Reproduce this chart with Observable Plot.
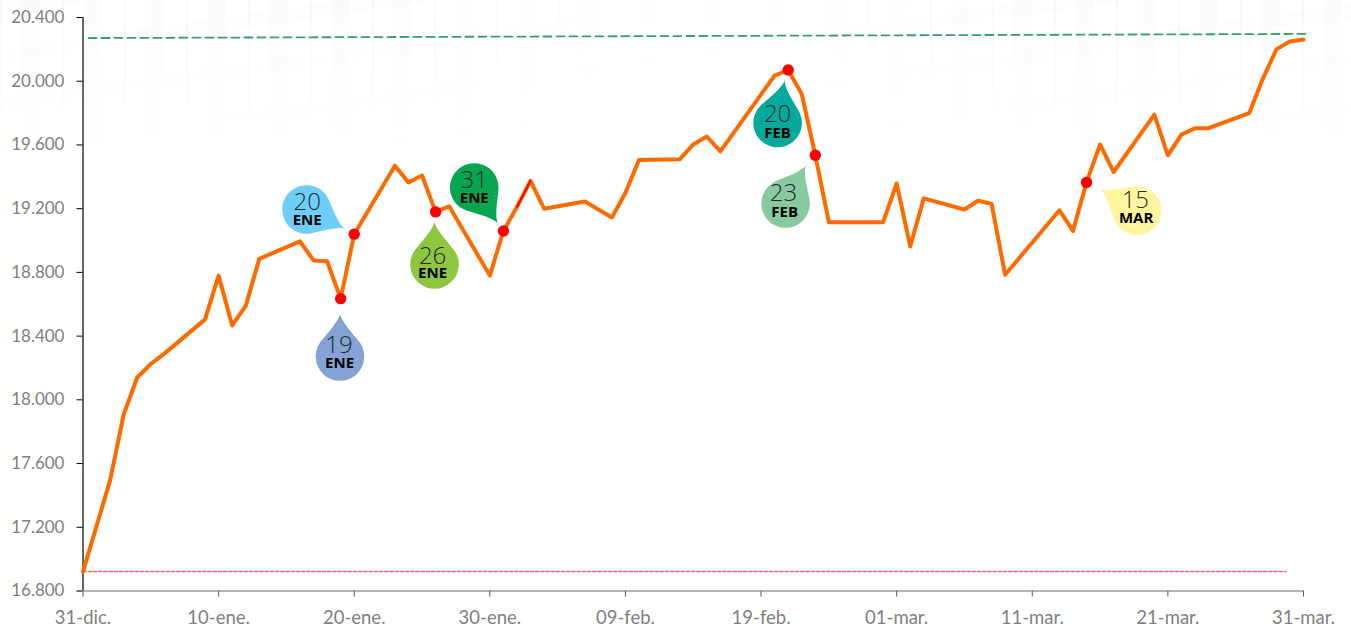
<!DOCTYPE html>
<html lang="es">
<head>
<meta charset="utf-8">
<script src="https://cdn.jsdelivr.net/npm/d3@7"></script>
<script src="https://cdn.jsdelivr.net/npm/@observablehq/plot@0.6"></script>
<style>
html,body{margin:0;padding:0;background:#fff;overflow:hidden}
#wrap{position:relative;width:1351px;height:627px}
#bg{position:absolute;left:0;top:0;width:1351px;height:170px;
 background-image:
  repeating-linear-gradient(90deg,rgba(0,0,0,.03) 0 2px,transparent 2px 21px,rgba(0,0,0,.012) 21px 40px,transparent 40px 62px),
  repeating-linear-gradient(172deg,rgba(0,0,0,.009) 0 14px,transparent 14px 48px);
 -webkit-mask-image:linear-gradient(180deg,#000 0,rgba(0,0,0,.45) 45%,transparent 100%),linear-gradient(90deg,#000 0,#000 26%,rgba(0,0,0,.2) 45%,rgba(0,0,0,.2) 60%,#000 78%);
 -webkit-mask-composite:source-in;mask-composite:intersect}
#chart{position:absolute;left:0;top:0}
</style>
</head>
<body>
<div id="wrap"><div id="bg"></div><div id="chart"></div></div>
<script>
const days = [0,2,3,4,5,6,9,10,11,12,13,16,17,18,19,20,23,24,25,26,27,30,31,32,33,34,37,39,40,41,44,45,46,47,51,52,53,54,55,59,60,61,62,65,66,67,68,72,73,74,75,76,79,80,81,82,83,86,87,88,89,90];
const values = [16922,17494,17908,18140,18225,18290,18505,18780,18467,18590,18885,18995,18875,18870,18635,19040,19470,19365,19408,19180,19215,18780,19060,19210,19375,19200,19245,19145,19300,19505,19510,19603,19653,19560,20036,20070,19920,19535,19115,19115,19358,18963,19265,19195,19250,19230,18785,19190,19060,19365,19603,19430,19790,19535,19665,19705,19705,19800,20015,20200,20250,20262];
const highlightDays = [19,20,26,31,52,54,74];
const redSegmentDays = [32,33];

const greenDays = [0.4,90.5];
const greenValues = [20271,20297];
const redDays = [0,88.7];
const redValues = [16922,16922];

const dropNumbers = ["20","19","26","31","20","23","15"];
const dropMonths = ["ENE","ENE","ENE","ENE","FEB","FEB","MAR"];
const dropDays = [16.48,18.95,25.92,28.85,51.22,51.81,77.73];
const dropValues = [19195,18272,18850,19333,19738,19232,19188];
const dropAngles = [116.6,0,0,146.6,9.4,27.8,-60];
const dropColors = ["#6FCEF7","#84A2D3","#8FC640","#06A651","#03AA9C","#88CA9F","#FFF59E"];
const numberDays = [16.53,18.88,25.78,28.85,51.22,51.66,77.6];
const numberValues = [19240,18342,18902,19380,19794,19295,19252];
const monthDays = [16.53,18.92,25.78,28.85,51.22,51.74,77.66];
const monthValues = [19125,18228,18795,19268,19676,19180,19138];

const xTicks = [0,10,20,30,40,50,60,70,80,90];
const xLabels = ["31-dic.","10-ene.","20-ene.","30-ene.","09-feb.","19-feb.","01-mar.","11-mar.","21-mar.","31-mar."];
const yTicks = [16800,17200,17600,18000,18400,18800,19200,19600,20000,20400];
const yLabels = ["16.800","17.200","17.600","18.000","18.400","18.800","19.200","19.600","20.000","20.400"];

const series = days.map((d,i)=>({d,v:values[i]}));
const toTable = (xs,ys)=>xs.map((d,i)=>({d,v:ys[i]}));
const drops = dropDays.map((d,i)=>({d,v:dropValues[i],a:dropAngles[i],c:dropColors[i]}));
const numbers = dropNumbers.map((t,i)=>({t,d:numberDays[i],v:numberValues[i]}));
const months = dropMonths.map((t,i)=>({t,d:monthDays[i],v:monthValues[i]}));

const dropSymbol = {
  draw(ctx,size){
    const R = Math.sqrt(size/Math.PI);
    const a = 55*Math.PI/180;
    const px = R*Math.sin(a), py = -R*Math.cos(a);
    ctx.moveTo(0,-1.77*R);
    ctx.bezierCurveTo(0.05*R,-1.42*R,px-0.3*R*Math.cos(a),py-0.3*R*Math.sin(a),px,py);
    ctx.arc(0,0,R,-Math.PI/2+a,-Math.PI/2-a+2*Math.PI);
    ctx.bezierCurveTo(-px+0.3*R*Math.cos(a),py-0.3*R*Math.sin(a),-0.05*R,-1.42*R,0,-1.77*R);
    ctx.closePath();
  }
};

const fam = "Lato, Carlito, Calibri, sans-serif";
const chart = Plot.plot({
  width:1351,height:627,
  marginLeft:82.5,marginRight:48,marginTop:17,marginBottom:36.5,
  style:{background:"transparent",fontFamily:fam},
  x:{type:"linear",domain:[0,90],axis:null},
  y:{type:"linear",domain:[16800,20400],axis:null},
  marks:[
    Plot.line(toTable(greenDays,greenValues),{x:"d",y:"v",stroke:"#35A06E",strokeWidth:1.8,strokeDasharray:"8 5"}),
    Plot.line(toTable(redDays,redValues),{x:"d",y:"v",stroke:"#E06A70",strokeWidth:1.4,strokeDasharray:"3.4 1.8"}),
    Plot.axisY({ticks:yTicks,tickSize:6,text:null,color:"#000",label:null}),
    Plot.ruleX([0],{stroke:"#000",strokeWidth:1.2}),
    Plot.axisY({ticks:yTicks,tickSize:0,tickPadding:18.5,tickFormat:(d,i)=>yLabels[i],color:"#808080",fontSize:17,label:null}),
    Plot.axisX({ticks:xTicks,tickSize:6,text:null,color:"#595959",label:null}),
    Plot.ruleY([16800],{stroke:"#6b6b6b",strokeWidth:1.2,insetLeft:-6}),
    Plot.axisX({ticks:xTicks,tickSize:0,tickPadding:20,tickFormat:(d,i)=>xLabels[i],color:"#808080",fontSize:18.5,label:null}),
    Plot.line(series,{x:"d",y:"v",stroke:"#FF6A00",strokeWidth:4,strokeLinejoin:"round",strokeLinecap:"round"}),
    Plot.line(series.filter(p=>redSegmentDays.includes(p.d)),{x:"d",y:"v",stroke:"#F00",strokeWidth:2}),
    Plot.dot(series.filter(p=>highlightDays.includes(p.d)),{x:"d",y:"v",r:5.7,fill:"#F00",stroke:null}),
    Plot.dot(drops,{x:"d",y:"v",r:24.3,symbol:dropSymbol,rotate:"a",fill:"c",stroke:null}),
    Plot.text(numbers,{x:"d",y:"v",text:"t",fontSize:24,fontWeight:300,fontFamily:"'Open Sans', sans-serif",fill:"#1f2a30"}),
    Plot.text(months,{x:"d",y:"v",text:"t",fontSize:15,fontWeight:700,fontFamily:"'Open Sans', sans-serif",fill:"#000"})
  ]
});
document.getElementById("chart").appendChild(chart);
</script>
</body>
</html>
